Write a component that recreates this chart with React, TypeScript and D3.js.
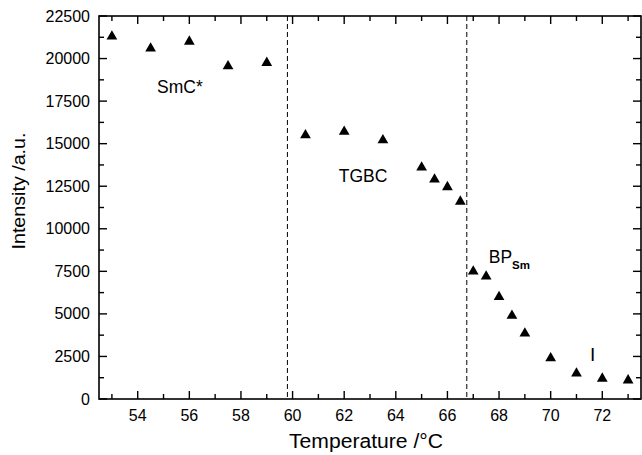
import React from 'react';
import * as d3 from 'd3';

// temperature (°C) and intensity (a.u.)
const temps = [53, 54.5, 56, 57.5, 59, 60.5, 62, 63.5, 65, 65.5, 66, 66.5, 67, 67.5, 68, 68.5, 69, 70, 71, 72, 73];
const intensity = [21300, 20600, 21000, 19550, 19750, 15500, 15700, 15200, 13600, 12900, 12450, 11600, 7500, 7200, 6000, 4900, 3850, 2400, 1500, 1200, 1100];

// phase boundaries
const boundaries = [59.8, 66.75];

const xTicks = [54, 56, 58, 60, 62, 64, 66, 68, 70, 72];
const xMinor = [53, 55, 57, 59, 61, 63, 65, 67, 69, 71, 73];
const yTicks = [0, 2500, 5000, 7500, 10000, 12500, 15000, 17500, 20000, 22500];
const yMinor = [1250, 3750, 6250, 8750, 11250, 13750, 16250, 18750, 21250];

const W = 642;
const H = 455;
const left = 99, right = 641, top = 16, bottom = 399;

const App = () => {
    const x = d3.scaleLinear().domain([52.5, 73.5]).range([left, right]);
    const y = d3.scaleLinear().domain([0, 22500]).range([bottom, top]);
    const tri = d3.symbol().type(d3.symbolTriangle).size(50)();
    const font = 'Liberation Sans, Arial, sans-serif';

    return (
        <svg width={W} height={H} style={{ position: 'absolute', left: 0, top: 0, background: '#fff' }}
            fontFamily={font}>
            {/* frame */}
            <rect x={left} y={top} width={right - left} height={bottom - top} fill="none" stroke="#000" strokeWidth={1.6} />

            {/* x ticks, bottom and top, pointing inward */}
            {xTicks.map(t => (
                <g key={'x' + t}>
                    <line x1={x(t)} x2={x(t)} y1={bottom} y2={bottom - 8} stroke="#000" strokeWidth={1.4} />
                    <line x1={x(t)} x2={x(t)} y1={top} y2={top + 8} stroke="#000" strokeWidth={1.4} />
                    <text x={x(t)} y={421} textAnchor="middle" fontSize={16}>{t}</text>
                </g>
            ))}
            {xMinor.map(t => (
                <g key={'xm' + t}>
                    <line x1={x(t)} x2={x(t)} y1={bottom} y2={bottom - 5} stroke="#000" strokeWidth={1.4} />
                    <line x1={x(t)} x2={x(t)} y1={top} y2={top + 5} stroke="#000" strokeWidth={1.4} />
                </g>
            ))}

            {/* y ticks, left and right */}
            {yTicks.map(t => (
                <g key={'y' + t}>
                    <line x1={left} x2={left + 8} y1={y(t)} y2={y(t)} stroke="#000" strokeWidth={1.4} />
                    <line x1={right} x2={right - 8} y1={y(t)} y2={y(t)} stroke="#000" strokeWidth={1.4} />
                    <text x={left - 9} y={y(t) + 5.5} textAnchor="end" fontSize={16}>{t}</text>
                </g>
            ))}
            {yMinor.map(t => (
                <g key={'ym' + t}>
                    <line x1={left} x2={left + 5} y1={y(t)} y2={y(t)} stroke="#000" strokeWidth={1.4} />
                    <line x1={right} x2={right - 5} y1={y(t)} y2={y(t)} stroke="#000" strokeWidth={1.4} />
                </g>
            ))}

            {/* phase boundaries */}
            {boundaries.map(b => (
                <line key={'b' + b} x1={x(b)} x2={x(b)} y1={top} y2={bottom}
                    stroke="#000" strokeWidth={1} strokeDasharray="5,3" />
            ))}

            {/* data */}
            {temps.map((t, i) => (
                <path key={'p' + i} d={tri} transform={`translate(${x(t)},${y(intensity[i])})`} fill="#000" />
            ))}

            {/* phase labels */}
            <text x={x(54.75)} y={y(17980)} fontSize={17.5}>SmC*</text>
            <text x={x(61.79)} y={y(12770)} fontSize={17.5}>TGBC</text>
            <text x={x(67.6)} y={y(7970)} fontSize={17.5}>BP<tspan fontSize={11.5} fontWeight="bold" dy={5.7}>Sm</tspan></text>
            <text x={x(71.63)} y={361} textAnchor="middle" fontSize={19}>I</text>

            {/* axis titles */}
            <text x={366} y={448} textAnchor="middle" fontSize={19.5}
                textLength={154} lengthAdjust="spacingAndGlyphs">Temperature /°C</text>
            <text transform="translate(25,191) rotate(-90)" textAnchor="middle" fontSize={19}
                textLength={117} lengthAdjust="spacingAndGlyphs">Intensity /a.u.</text>
        </svg>
    );
};

export default App;
